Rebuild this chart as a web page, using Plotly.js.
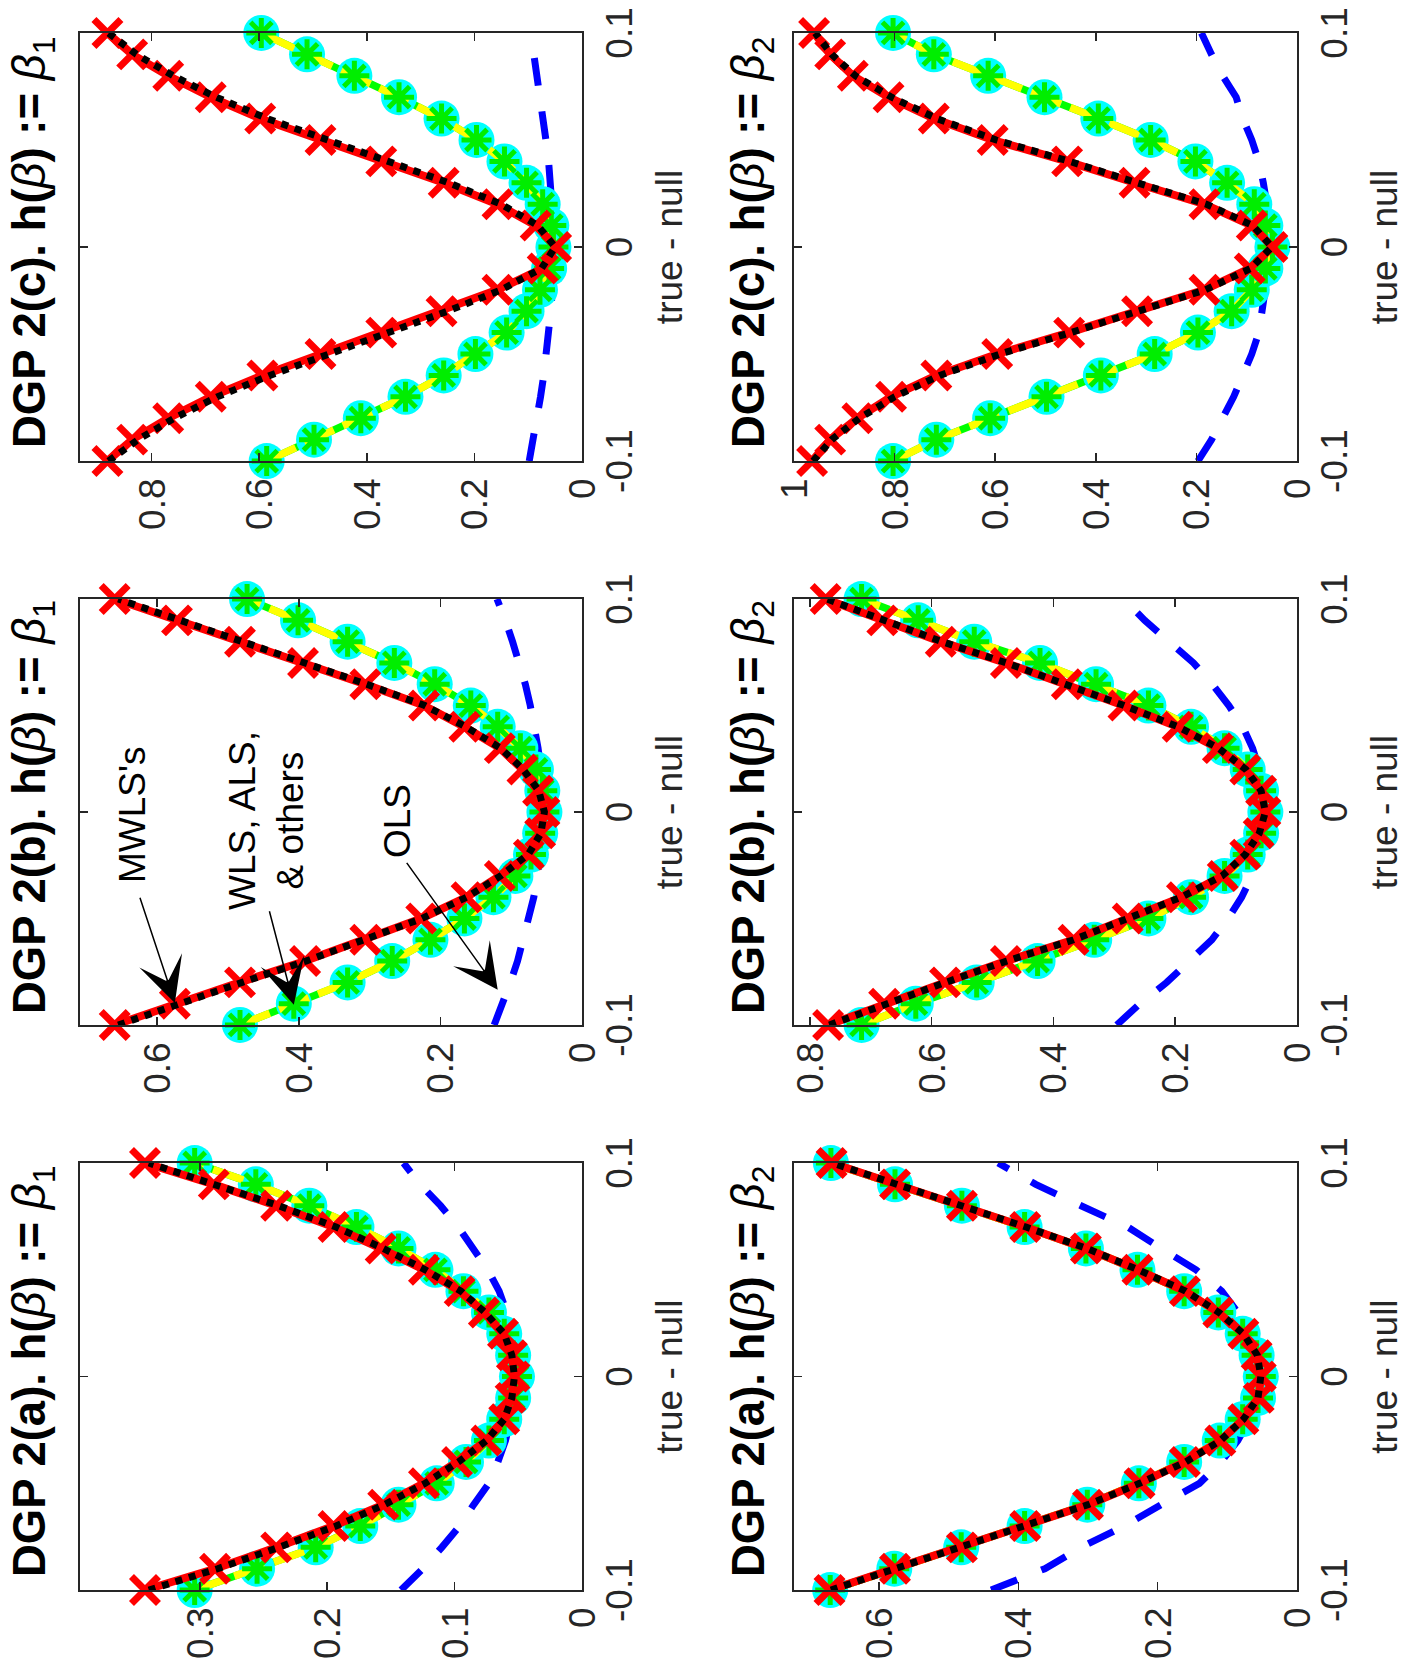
<!DOCTYPE html>
<html>
<head>
<meta charset="utf-8">
<script src="https://cdn.plot.ly/plotly-3.0.1.min.js"></script>
<style>
html,body{margin:0;padding:0;background:#ffffff;overflow:hidden;}
#wrap{position:relative;width:1406px;height:1665px;overflow:hidden;background:#fff;}
#plot{position:absolute;left:0;top:0;width:1665px;height:1406px;transform-origin:0 0;transform:translateY(1665px) rotate(-90deg);}
</style>
</head>
<body>
<div id="wrap"><div id="plot"></div></div>
<script>
// true - null grid
const trueMinusNull = [-0.10,-0.09,-0.08,-0.07,-0.06,-0.05,-0.04,-0.03,-0.02,-0.01,0,0.01,0.02,0.03,0.04,0.05,0.06,0.07,0.08,0.09,0.10];
const xTickVals = [-0.1, 0, 0.1];
const xTickText = ['-0.1', '0', '0.1'];

// DGP 2(a), beta1
const a1_mwls  = [0.343,0.288,0.240,0.195,0.156,0.124,0.098,0.075,0.061,0.056,0.053,0.055,0.062,0.077,0.096,0.124,0.158,0.195,0.240,0.289,0.343];
const a1_mwls2 = [0.340,0.286,0.238,0.193,0.155,0.123,0.097,0.075,0.061,0.055,0.053,0.055,0.061,0.076,0.095,0.123,0.156,0.193,0.238,0.287,0.340];
const a1_wls   = [0.304,0.255,0.209,0.174,0.144,0.114,0.091,0.073,0.061,0.054,0.051,0.054,0.061,0.073,0.093,0.115,0.144,0.177,0.214,0.256,0.304];
const a1_ols   = [0.142,0.125,0.110,0.096,0.085,0.073,0.066,0.060,0.056,0.053,0.052,0.053,0.055,0.059,0.065,0.074,0.085,0.097,0.111,0.127,0.140];

// DGP 2(b), beta1
const b1_mwls  = [0.660,0.575,0.483,0.391,0.306,0.227,0.163,0.116,0.075,0.059,0.053,0.062,0.084,0.116,0.166,0.223,0.306,0.394,0.483,0.572,0.660];
const b1_mwls2 = [0.655,0.570,0.480,0.390,0.305,0.226,0.163,0.115,0.076,0.058,0.053,0.061,0.083,0.115,0.164,0.222,0.304,0.392,0.480,0.568,0.655];
const b1_wls   = [0.483,0.407,0.331,0.268,0.214,0.166,0.125,0.094,0.072,0.059,0.053,0.056,0.065,0.087,0.119,0.157,0.208,0.265,0.331,0.401,0.473];
const b1_ols   = [0.124,0.112,0.101,0.091,0.083,0.075,0.068,0.063,0.059,0.056,0.055,0.056,0.058,0.062,0.067,0.073,0.080,0.088,0.098,0.108,0.120];

// DGP 2(c), beta1
const c1_mwls  = [0.882,0.836,0.769,0.690,0.594,0.486,0.373,0.261,0.157,0.073,0.048,0.086,0.157,0.257,0.373,0.486,0.598,0.690,0.769,0.836,0.882];
const c1_mwls2 = [0.880,0.825,0.758,0.678,0.580,0.470,0.360,0.250,0.150,0.075,0.050,0.082,0.150,0.248,0.360,0.472,0.585,0.680,0.760,0.828,0.880];
const c1_wls   = [0.586,0.498,0.411,0.328,0.257,0.198,0.140,0.103,0.078,0.061,0.053,0.057,0.073,0.103,0.144,0.196,0.261,0.340,0.423,0.511,0.596];
const c1_ols   = [0.098,0.090,0.083,0.077,0.071,0.066,0.062,0.058,0.055,0.053,0.052,0.053,0.055,0.058,0.062,0.067,0.072,0.078,0.085,0.090,0.095];

// DGP 2(a), beta2
const a2_mwls  = [0.671,0.577,0.481,0.390,0.300,0.226,0.161,0.110,0.077,0.055,0.052,0.058,0.077,0.113,0.161,0.229,0.303,0.390,0.481,0.577,0.668];
const a2_mwls2 = [0.669,0.576,0.480,0.389,0.300,0.226,0.160,0.110,0.077,0.056,0.052,0.057,0.077,0.112,0.160,0.228,0.302,0.389,0.480,0.576,0.667];
const a2_wls   = [0.670,0.578,0.482,0.391,0.301,0.227,0.162,0.111,0.078,0.056,0.052,0.058,0.078,0.113,0.162,0.229,0.303,0.391,0.481,0.577,0.669];
const a2_ols   = [0.439,0.362,0.310,0.248,0.195,0.140,0.109,0.085,0.068,0.058,0.055,0.058,0.068,0.085,0.108,0.145,0.195,0.243,0.310,0.375,0.429];

// DGP 2(b), beta2
const b2_mwls  = [0.770,0.678,0.578,0.478,0.367,0.278,0.189,0.122,0.085,0.063,0.052,0.059,0.085,0.130,0.196,0.285,0.378,0.478,0.585,0.681,0.774];
const b2_mwls2 = [0.768,0.676,0.577,0.477,0.367,0.278,0.190,0.123,0.085,0.062,0.052,0.059,0.084,0.129,0.195,0.284,0.377,0.477,0.583,0.679,0.772];
const b2_wls   = [0.715,0.626,0.526,0.426,0.333,0.244,0.174,0.119,0.081,0.059,0.052,0.059,0.081,0.119,0.174,0.244,0.330,0.422,0.530,0.622,0.715];
const b2_ols   = [0.296,0.258,0.214,0.175,0.140,0.113,0.091,0.074,0.062,0.055,0.053,0.055,0.062,0.073,0.089,0.112,0.139,0.170,0.212,0.250,0.285];

// DGP 2(c), beta2
const c2_mwls  = [0.964,0.928,0.874,0.807,0.717,0.596,0.453,0.318,0.184,0.094,0.049,0.090,0.184,0.323,0.457,0.605,0.722,0.812,0.883,0.928,0.960];
const c2_mwls2 = [0.962,0.925,0.870,0.800,0.710,0.590,0.450,0.315,0.182,0.092,0.050,0.088,0.180,0.318,0.452,0.598,0.716,0.806,0.878,0.925,0.958];
const c2_wls   = [0.803,0.717,0.610,0.498,0.390,0.283,0.197,0.130,0.090,0.063,0.049,0.063,0.085,0.139,0.202,0.291,0.395,0.502,0.614,0.722,0.803];
const c2_ols   = [0.197,0.170,0.148,0.126,0.108,0.090,0.076,0.070,0.062,0.057,0.055,0.056,0.060,0.067,0.076,0.090,0.108,0.121,0.148,0.170,0.190];

// panel titles
const panelTitles = [
  ['2(a)', '1'], ['2(b)', '1'], ['2(c)', '1'],
  ['2(a)', '2'], ['2(b)', '2'], ['2(c)', '2']
];
const valueTicks = [
  [0, 0.1, 0.2, 0.3], [0, 0.2, 0.4, 0.6], [0, 0.2, 0.4, 0.6, 0.8],
  [0, 0.2, 0.4, 0.6], [0, 0.2, 0.4, 0.6, 0.8], [0, 0.2, 0.4, 0.6, 0.8, 1]
];
const valueMax = [0.394, 0.709, 0.933, 0.722, 0.826, 1.0];

const panels = [
  {mwls:a1_mwls, mwls2:a1_mwls2, wls:a1_wls, ols:a1_ols},
  {mwls:b1_mwls, mwls2:b1_mwls2, wls:b1_wls, ols:b1_ols},
  {mwls:c1_mwls, mwls2:c1_mwls2, wls:c1_wls, ols:c1_ols},
  {mwls:a2_mwls, mwls2:a2_mwls2, wls:a2_wls, ols:a2_ols},
  {mwls:b2_mwls, mwls2:b2_mwls2, wls:b2_wls, ols:b2_ols},
  {mwls:c2_mwls, mwls2:c2_mwls2, wls:c2_wls, ols:c2_ols}
];

// layout geometry (landscape figure, later rotated)
const colDomains = [[0.0450, 0.3015], [0.3844, 0.6402], [0.7231, 0.9802]];
const rowDomains = [[0.5861, 0.9431], [0.0775, 0.4353]];
const titleY = [0.9765, 0.4650];

const FONT = 'Liberation Sans, Arial, Helvetica, sans-serif';
const AXC = '#262626';

const traces = [];
const layout = {
  width: 1665, height: 1406,
  margin: {l:0, r:0, t:0, b:0},
  paper_bgcolor: '#ffffff', plot_bgcolor: '#ffffff',
  showlegend: false,
  annotations: []
};

panels.forEach((p, i) => {
  const n = i + 1;
  const xa = 'x' + (n === 1 ? '' : n);
  const ya = 'y' + (n === 1 ? '' : n);
  const row = i < 3 ? 0 : 1;
  const col = i % 3;

  traces.push({x: trueMinusNull, y: p.ols, xaxis: xa, yaxis: ya, type: 'scatter', mode: 'lines',
    line: {color: '#0000ff', width: 7, dash: '28px,26px'}, cliponaxis: false, hoverinfo: 'skip'});
  traces.push({x: trueMinusNull, y: p.wls, xaxis: xa, yaxis: ya, type: 'scatter', mode: 'lines+markers',
    line: {color: '#00ff00', width: 7.5},
    marker: {symbol: 'circle', size: 36, color: '#00ffff', line: {width: 0}}, cliponaxis: false, hoverinfo: 'skip'});
  traces.push({x: trueMinusNull, y: p.wls, xaxis: xa, yaxis: ya, type: 'scatter', mode: 'lines+markers',
    line: {color: '#ffff00', width: 7.5, dash: '32px,10px'},
    marker: {symbol: 'asterisk-open', size: 25, color: '#00ee00', line: {color: '#00e600', width: 5}}, cliponaxis: false, hoverinfo: 'skip'});
  traces.push({x: trueMinusNull, y: p.mwls, xaxis: xa, yaxis: ya, type: 'scatter', mode: 'lines+markers',
    line: {color: '#ff0000', width: 8},
    marker: {symbol: 'x-thin-open', size: 27, color: '#ff0000', line: {color: '#ff0000', width: 7}}, cliponaxis: false, hoverinfo: 'skip'});
  traces.push({x: trueMinusNull, y: p.mwls2, xaxis: xa, yaxis: ya, type: 'scatter', mode: 'lines',
    line: {color: '#000000', width: 7, dash: 'dot'}, cliponaxis: false, hoverinfo: 'skip'});

  const xkey = 'xaxis' + (n === 1 ? '' : n);
  const ykey = 'yaxis' + (n === 1 ? '' : n);
  layout[xkey] = {
    domain: colDomains[col], anchor: ya, range: [-0.1, 0.1],
    tickvals: xTickVals, ticktext: xTickText,
    ticks: 'inside', ticklen: 8, tickwidth: 1.5, tickcolor: AXC,
    showline: true, linecolor: AXC, linewidth: 2, mirror: 'ticks',
    showgrid: false, zeroline: false, automargin: false, fixedrange: true,
    ticklabelstandoff: 4,
    tickfont: {family: FONT, size: 37, color: AXC},
    title: {text: 'true - null', font: {family: FONT, size: 37, color: AXC}, standoff: 17}
  };
  layout[ykey] = {
    domain: rowDomains[row], anchor: xa, range: [0, valueMax[i]],
    tickvals: valueTicks[i], ticktext: valueTicks[i].map(v => String(v)),
    ticks: 'inside', ticklen: 8, tickwidth: 1.5, tickcolor: AXC,
    showline: true, linecolor: AXC, linewidth: 2, mirror: 'ticks',
    showgrid: false, zeroline: false, automargin: false, fixedrange: true,
    ticklabelstandoff: 8,
    tickfont: {family: FONT, size: 37, color: AXC}
  };

  const t = panelTitles[i];
  layout.annotations.push({
    xref: 'paper', yref: 'paper',
    x: (colDomains[col][0] + colDomains[col][1]) / 2 + 0.003, y: titleY[row],
    xanchor: 'center', yanchor: 'middle', showarrow: false,
    font: {family: FONT, size: 45.5, color: '#000000'},
    text: '<b>DGP ' + t[0] + '. h(</b><i>β</i><b>) := </b><i>β</i><sub>' + t[1] + '</sub>'
  });
});

// labels and arrows in DGP 2(b), beta1 panel
const labelText = ["MWLS's", 'WLS, ALS,<br>& others', 'OLS'];
const labelPos = [[-0.001, 0.635], [-0.004, 0.445], [-0.004, 0.261]];
const arrowTail = [[-0.0396, 0.625], [-0.0459, 0.442], [-0.0232, 0.249]];
const arrowHead = [[-0.0897, 0.575], [-0.0905, 0.407], [-0.0835, 0.119]];
labelText.forEach((txt, k) => {
  layout.annotations.push({
    xref: 'x2', yref: 'y2', x: labelPos[k][0], y: labelPos[k][1],
    xanchor: 'center', yanchor: 'middle', showarrow: false,
    font: {family: FONT, size: 37, color: '#000000'}, text: txt
  });
  layout.annotations.push({
    xref: 'x2', yref: 'y2', axref: 'x2', ayref: 'y2',
    x: arrowHead[k][0], y: arrowHead[k][1], ax: arrowTail[k][0], ay: arrowTail[k][1],
    showarrow: true, arrowhead: 3, arrowsize: 5, arrowwidth: 1.5, arrowcolor: '#000000',
    standoff: 0, startstandoff: 0, text: ''
  });
});

Plotly.newPlot('plot', traces, layout, {staticPlot: true, displayModeBar: false});
</script>
</body>
</html>
